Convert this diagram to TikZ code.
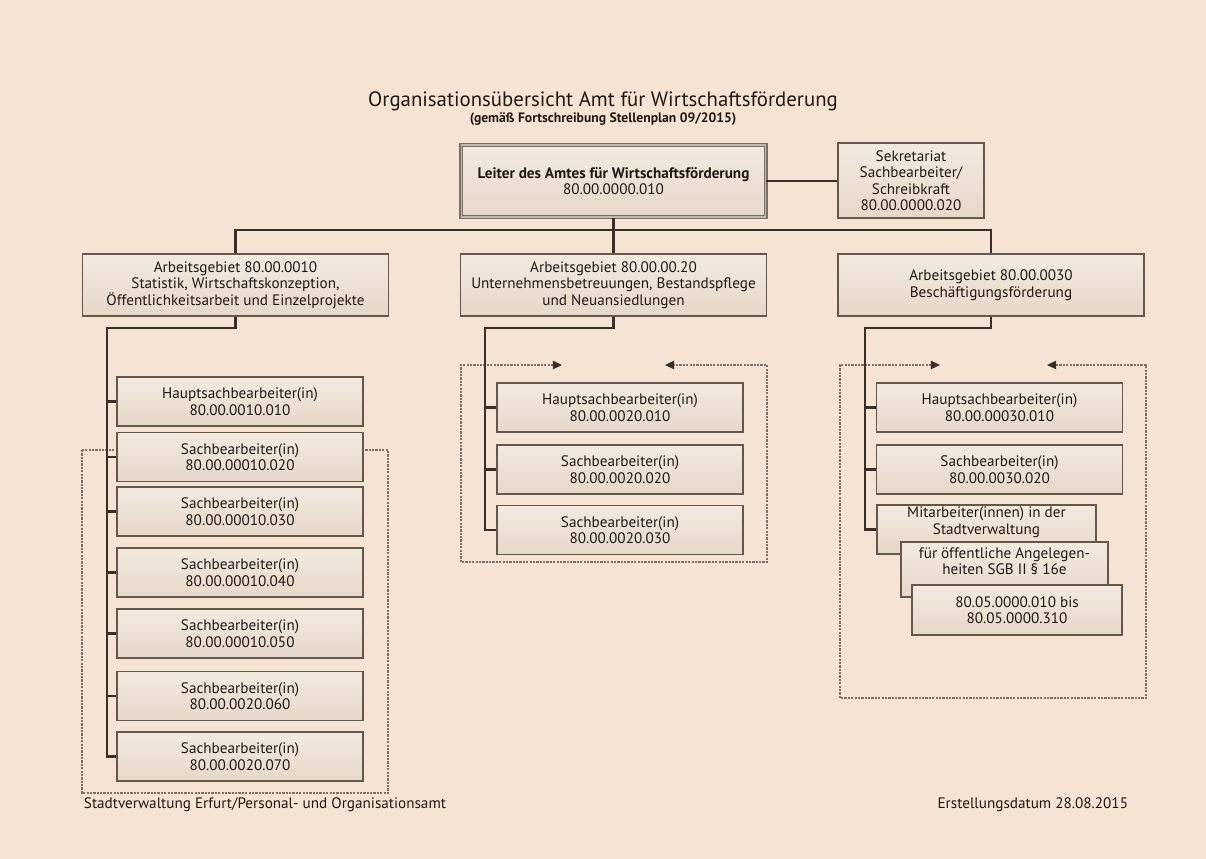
\documentclass[tikz,border=0pt]{standalone}
\usepackage{fontspec}
\setmainfont{PT Sans}
\usetikzlibrary{positioning,arrows.meta,calc}
\definecolor{paper}{HTML}{F5E4D3}
\definecolor{boxtop}{HTML}{F3EAE0}
\definecolor{boxbot}{HTML}{E6D8C9}
\definecolor{frame}{HTML}{64574B}
\definecolor{linecol}{HTML}{3A2F27}
\definecolor{ink}{HTML}{1F1915}
\definecolor{dots}{HTML}{7D7065}

\begin{document}
\begin{tikzpicture}[x=0.025cm,y=-0.025cm,
  every node/.style={text=ink, font=\fontsize{10.8}{11.7}\selectfont},
  unit/.style={draw=frame, line width=0.9pt, top color=boxtop, bottom color=boxbot, align=center, inner sep=2pt},
  head/.style={unit, minimum width=7.65cm, minimum height=1.55cm},
  post/.style={unit, minimum width=6.15cm, minimum height=1.225cm},
  wire/.style={draw=linecol, line width=1.5pt},
  frameline/.style={draw=dots, line width=0.8pt, dash pattern=on 1.6pt off 0.8pt},
  pointer/.style={frameline, {Triangle[length=6.5pt,width=6pt,color=linecol]}-{Triangle[length=6.5pt,width=6pt,color=linecol]}},
]
\fill[paper] (0,0) rectangle (1206,859);
\useasboundingbox (0,0) rectangle (1206,859);

\node (title) at (603,101) {\fontsize{14.8}{17}\selectfont Organisationsübersicht Amt für Wirtschaftsförderung};
\node (subtitle) at (603,119) {\fontsize{9.7}{11}\selectfont\bfseries (gemäß Fortschreibung Stellenplan 09/2015)};

\draw[frameline] (82,450) rectangle (388,793);
\draw[pointer] (562,365) -| (461,562) -| (767,365) -- (665,365);
\draw[pointer] (940,365) -| (840,698) -| (1146,365) -- (1047,365);

\node[unit, draw=frame!85, double=frame!35!boxtop, double distance=1pt, line width=0.9pt, minimum width=7.6cm, minimum height=1.8cm] (lead) at (613.5,181) {\bfseries Leiter des Amtes für Wirtschaftsförderung\\80.00.0000.010};
\node[unit, minimum width=3.65cm, minimum height=1.875cm] (secr) at (911,180.5) {Sekretariat\\Sachbearbeiter/\\Schreibkraft\\80.00.0000.020};

\node[head] (ag1) at (235.5,285) {Arbeitsgebiet 80.00.0010\\Statistik, Wirtschaftskonzeption,\\Öffentlichkeitsarbeit und Einzelprojekte};
\node[head] (ag2) at (613.5,285) {Arbeitsgebiet 80.00.00.20\\Unternehmensbetreuungen, Bestandspflege\\und Neuansiedlungen};
\node[head] (ag3) at (991,285) {Arbeitsgebiet 80.00.0030\\Beschäftigungsförderung};

\node[post] (h1) at (240,401.5) {Hauptsachbearbeiter(in)\\80.00.0010.010};
\node[post] (s12) at (240,457) {Sachbearbeiter(in)\\80.00.00010.020};
\node[post] (s13) at (240,511.5) {Sachbearbeiter(in)\\80.00.00010.030};
\node[post] (s14) at (240,572.5) {Sachbearbeiter(in)\\80.00.00010.040};
\node[post] (s15) at (240,633.5) {Sachbearbeiter(in)\\80.00.00010.050};
\node[post] (s16) at (240,696) {Sachbearbeiter(in)\\80.00.0020.060};
\node[post] (s17) at (240,756.5) {Sachbearbeiter(in)\\80.00.0020.070};

\node[post] (h2) at (620,407.5) {Hauptsachbearbeiter(in)\\80.00.0020.010};
\node[post] (s22) at (620,469.5) {Sachbearbeiter(in)\\80.00.0020.020};
\node[post] (s23) at (620,530) {Sachbearbeiter(in)\\80.00.0020.030};

\node[post] (h3) at (999.5,407.5) {Hauptsachbearbeiter(in)\\80.00.00030.010};
\node[post] (s32) at (999.5,469.5) {Sachbearbeiter(in)\\80.00.0030.020};
\node[unit, minimum width=5.475cm, minimum height=1.225cm] (ma1) at (986.5,529.5) {};
\node[align=center] (ma1text) at (986.5,522) {Mitarbeiter(innen) in der\\Stadtverwaltung};
\node[unit, minimum width=5.175cm, minimum height=1.375cm] (ma2) at (1004.5,569.5) {};
\node[align=center] (ma2text) at (1004.5,561) {für öffentliche Angelegen-\\heiten SGB II § 16e};
\node[unit, minimum width=5.25cm, minimum height=1.25cm] (ma3) at (1017,610) {80.05.0000.010 bis\\80.05.0000.310};

\coordinate (bus) at (613.5,230);
\draw[wire] (lead.east) -- (lead.east -| secr.west);
\draw[wire] (lead.south) -- (bus);
\draw[wire] (ag1.north) |- (bus) -| (ag3.north);
\draw[wire] (bus) -- (ag2.north);

\coordinate (k1) at (107,328);
\coordinate (k2) at (485,328);
\coordinate (k3) at (865,328);
\draw[wire] (ag1.south) |- (k1) |- (s17.west);
\draw[wire] (ag2.south) |- (k2) |- (s23.west);
\draw[wire] (ag3.south) |- (k3) |- (ma1.west);
\foreach \n in {h1,s12,s13,s14,s15,s16} \draw[wire] (k1 |- \n.west) -- (\n.west);
\foreach \n in {h2,s22} \draw[wire] (k2 |- \n.west) -- (\n.west);
\foreach \n in {h3,s32} \draw[wire] (k3 |- \n.west) -- (\n.west);

\node[anchor=west] (office) at (79,805) {Stadtverwaltung Erfurt/Personal- und Organisationsamt};
\node[anchor=east] (date) at (1133,805) {Erstellungsdatum 28.08.2015};
\end{tikzpicture}
\end{document}
